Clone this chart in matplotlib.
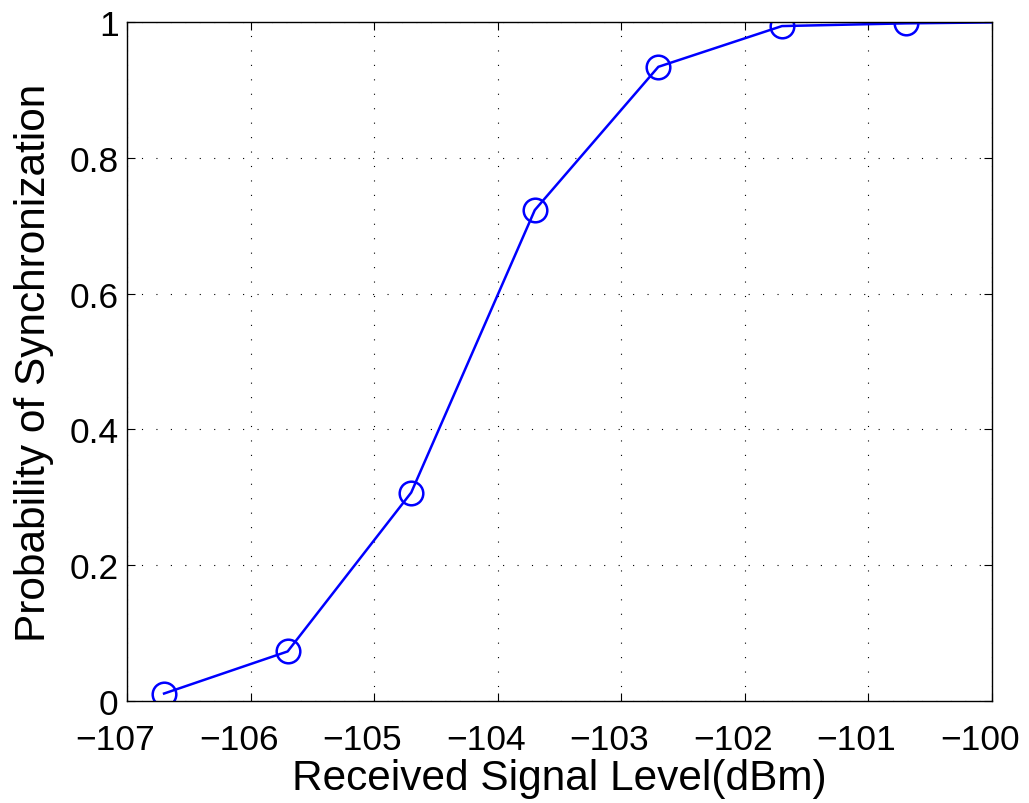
import matplotlib
matplotlib.use("Agg")
import matplotlib.pyplot as plt
import matplotlib.transforms as mtransforms

signal_dbm = [-106.7, -105.7, -104.7, -103.7, -102.7, -101.7, -100.7, -99.7]
prob_sync = [0.011, 0.073, 0.307, 0.723, 0.934, 0.994, 0.998, 1.0]
x_ticks = [-107, -106, -105, -104, -103, -102, -101, -100]
y_ticks = [0, 0.2, 0.4, 0.6, 0.8, 1]
y_tick_labels = ["0", "0.2", "0.4", "0.6", "0.8", "1"]

plt.rcParams['font.family'] = ['Liberation Sans', 'DejaVu Sans']

fig = plt.figure(figsize=(10.29, 8.04), dpi=100)
ax = fig.add_axes([127/1029, 1 - 702/804, (992-127)/1029, (702-23)/804])

ax.plot(signal_dbm, prob_sync, color=(0, 0, 1), lw=1.8, marker='o', ms=17,
        mfc='none', mec=(0, 0, 1), mew=1.8, clip_on=True)

ax.set_xlim(-107, -100)
ax.set_ylim(0, 1)
ax.set_xticks(x_ticks)
ax.set_yticks(y_ticks)
ax.set_yticklabels(y_tick_labels)
ax.grid(True, color='black', linestyle=(0, (1, 12)), linewidth=0.8)
ax.tick_params(direction='in', length=6, width=0.8, top=True, right=True,
               labelsize=25.5)
ax.tick_params(axis='x', pad=16)
ax.tick_params(axis='y', pad=6)
for s in ax.spines.values():
    s.set_linewidth(1.0)

shift = mtransforms.ScaledTranslation(-12 / 100, 0, fig.dpi_scale_trans)
for lbl in ax.get_xticklabels():
    lbl.set_transform(lbl.get_transform() + shift)

ax.set_xlabel('Received Signal Level(dBm)', fontsize=30.5)
ax.set_ylabel('Probability of Synchronization', fontsize=30.5)
ax.xaxis.label.set_va('center')
ax.yaxis.label.set_va('center')
ax.xaxis.set_label_coords(0.5, (702 - 779) / 679)
ax.yaxis.set_label_coords((34 - 127) / 865, 0.5)

fig.savefig('out.png', dpi=100)
